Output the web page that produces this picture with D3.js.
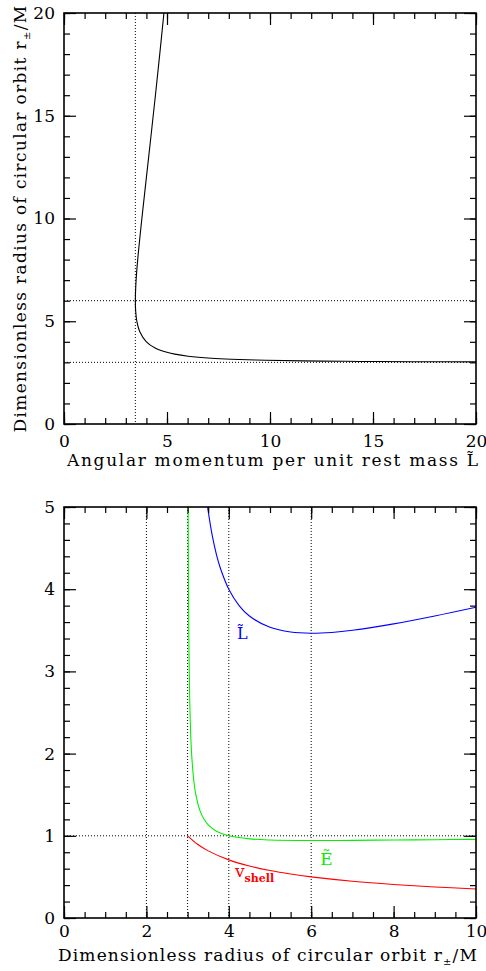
<!DOCTYPE html>
<html>
<head>
<meta charset="utf-8">
<script src="https://cdn.jsdelivr.net/npm/d3@7"></script>
<style>
  body { margin: 0; background: #fff; }
  svg { display: block; }
  text { font-family: "DejaVu Serif", serif; }
</style>
</head>
<body>
<div id="chart"></div>
<script>

// ---- top panel: radius of circular orbit vs angular momentum ----
const orbitL = [20.0, 17.49, 15.2, 13.64, 11.60, 9.80, 8.13, 7.155, 6.025, 5.376, 4.950, 4.422, 4.0,
    3.674, 3.536, 3.479, 3.464, 3.5, 3.578, 3.780, 4.0, 4.221, 4.438, 4.648, 4.851, 4.950];
const orbitR = [3.023, 3.03, 3.04, 3.05, 3.07, 3.1, 3.15, 3.2, 3.3, 3.4, 3.5, 3.7, 4.0,
    4.5, 5, 5.5, 6, 7, 8, 10, 12, 14, 16, 18, 20, 21];
const topGuideX = [3.464];
const topGuideY = [6, 3];
const topTicksX = [0, 5, 10, 15, 20];
const topTicksY = [0, 5, 10, 15, 20];

// ---- bottom panel: L~, E~ and v_shell vs radius ----
const radiusL = [3.486, 3.5, 3.6, 3.7, 3.8, 4, 4.25, 4.5, 5, 5.5, 6, 6.5, 7, 8, 9, 10];
const valuesL = [5.0, 4.950, 4.648, 4.422, 4.249, 4.0, 3.801, 3.674, 3.536, 3.479, 3.464, 3.474, 3.5, 3.578, 3.674, 3.780];
const radiusE = [3.005, 3.01, 3.015, 3.02, 3.03, 3.05, 3.07, 3.1, 3.15, 3.2, 3.3, 3.4, 3.5, 3.7, 4, 4.5, 5, 6, 7, 8, 9, 10];
const valuesE = [8.20, 5.82, 4.773, 4.150, 3.416, 2.689, 2.308, 1.976, 1.673, 1.5, 1.3065, 1.2005, 1.1339, 1.0563,
    1.0, 0.9623, 0.9487, 0.9428, 0.9449, 0.9487, 0.9526, 0.9562];
const radiusV = [3, 3.25, 3.5, 4, 4.5, 5, 5.5, 6, 7, 8, 9, 10];
const valuesV = [1, 0.8944, 0.8165, 0.7071, 0.6325, 0.5774, 0.5345, 0.5, 0.4472, 0.4082, 0.3780, 0.3536];
const botGuideX = [2, 3, 4, 6];
const botGuideY = [1];
const botTicksX = [0, 2, 4, 6, 8, 10];
const botTicksY = [0, 1, 2, 3, 4, 5];

const width = 486, height = 971;
const left = 64, plotW = 412, plotH = 411;

const svg = d3.select("#chart").append("svg")
    .attr("width", width)
    .attr("height", height);

// draws frame, inward ticks on all four sides and labels on bottom/left
function drawAxes(g, x, y, majX, minX, majY, minY, padX) {
    let w = plotW, h = plotH;
    let defs = [
        [d3.axisBottom, x, `translate(0,${h})`, majX, minX, true],
        [d3.axisTop, x, "translate(0,0)", majX, minX, false],
        [d3.axisLeft, y, "translate(0,0)", majY, minY, true],
        [d3.axisRight, y, `translate(${w},0)`, majY, minY, false]
    ];
    defs.forEach(function(d) {
        let minor = g.append("g").attr("transform", d[2])
            .call(d[0](d[1]).tickValues(d[4]).tickSize(-6).tickSizeOuter(0).tickFormat(""));
        let major = g.append("g").attr("transform", d[2])
            .call(d[0](d[1]).tickValues(d[3]).tickSize(-12).tickSizeOuter(0)
                .tickPadding(d[0] === d3.axisLeft ? 9 : padX)
                .tickFormat(d[5] ? d3.format("d") : ""));
        [minor, major].forEach(a => {
            a.select(".domain").remove();
            a.selectAll("line").attr("stroke", "#000").attr("stroke-width", 1.2);
            a.attr("font-family", "DejaVu Serif").attr("font-size", 17);
            a.selectAll("text").attr("fill", "#000");
        });
    });
    g.append("rect")
        .attr("width", w).attr("height", h)
        .attr("fill", "none").attr("stroke", "#000").attr("stroke-width", 1.6);
}

function drawGuides(g, x, y, gx, gy) {
    gx.forEach(v => {
        g.append("line").attr("x1", x(v)).attr("x2", x(v)).attr("y1", 0).attr("y2", plotH)
            .attr("stroke", "#000").attr("stroke-width", 1).attr("stroke-dasharray", "1,2");
    });
    gy.forEach(v => {
        g.append("line").attr("x1", 0).attr("x2", plotW).attr("y1", y(v)).attr("y2", y(v))
            .attr("stroke", "#000").attr("stroke-width", 1).attr("stroke-dasharray", "1,2");
    });
}

// stretch a title (with tspans) to a given length by letter spacing
function fitText(t, target) {
    let n = t.text().length;
    let len = t.node().getComputedTextLength();
    t.attr("letter-spacing", (target - len) / n);
}

// axis title "Dimensionless radius of circular orbit r±/M"
function radiusTitle(t) {
    t.append("tspan").text("Dimensionless radius of circular orbit r");
    t.append("tspan").attr("font-size", 10).attr("dy", 4).text("\u00b1");
    t.append("tspan").attr("dy", -4).text("/M");
}

svg.append("clipPath").attr("id", "clip")
    .append("rect").attr("width", plotW).attr("height", plotH);

// ---------- top panel ----------
let xTop = d3.scaleLinear().domain([0, 20]).range([0, plotW]);
let yTop = d3.scaleLinear().domain([0, 20]).range([plotH, 0]);
let gTop = svg.append("g").attr("transform", `translate(${left},13)`);

drawGuides(gTop, xTop, yTop, topGuideX, topGuideY);

let orbit = orbitL.map((l, i) => [l, orbitR[i]]);
gTop.append("path")
    .datum(orbit)
    .attr("clip-path", "url(#clip)")
    .attr("fill", "none")
    .attr("stroke", "#000")
    .attr("stroke-width", 1.1)
    .attr("d", d3.line().x(d => xTop(d[0])).y(d => yTop(d[1])).curve(d3.curveCatmullRom.alpha(0.5)));

drawAxes(gTop, xTop, yTop, topTicksX, d3.range(0, 21, 1), topTicksY, d3.range(0, 21, 1), 11);

gTop.append("text")
    .attr("x", 3).attr("y", 453)
    .attr("font-size", 17)
    .attr("textLength", 411)
    .attr("lengthAdjust", "spacing")
    .text("Angular momentum per unit rest mass L\u0303");

let yTitle = gTop.append("text")
    .attr("transform", `translate(${26 - left},${plotH / 2 + 214}) rotate(-90)`)
    .attr("font-size", 17);
radiusTitle(yTitle);
fitText(yTitle, 428);

// ---------- bottom panel ----------
let xBot = d3.scaleLinear().domain([0, 10]).range([0, plotW]);
let yBot = d3.scaleLinear().domain([0, 5]).range([plotH, 0]);
let gBot = svg.append("g").attr("transform", `translate(${left},507)`);

drawGuides(gBot, xBot, yBot, botGuideX, botGuideY);

let series = [
    {r: radiusL, v: valuesL, color: "#0000ff"},
    {r: radiusE, v: valuesE, color: "#00f000"},
    {r: radiusV, v: valuesV, color: "#ff0000"}
];
series.forEach(s => {
    gBot.append("path")
        .datum(s.r.map((r, i) => [r, s.v[i]]))
        .attr("clip-path", "url(#clip)")
        .attr("fill", "none")
        .attr("stroke", s.color)
        .attr("stroke-width", 1.1)
        .attr("d", d3.line().x(d => xBot(d[0])).y(d => yBot(d[1])).curve(d3.curveCatmullRom.alpha(0.5)));
});

drawAxes(gBot, xBot, yBot, botTicksX, d3.range(0, 10.01, 0.5), botTicksY, d3.range(0, 5.01, 0.2), 7);

gBot.append("text")
    .attr("x", xBot(4.2)).attr("y", yBot(3.4))
    .attr("font-size", 16).attr("fill", "#0000ff")
    .text("L\u0303");
gBot.append("text")
    .attr("x", xBot(6.22)).attr("y", yBot(0.64))
    .attr("font-size", 17).attr("fill", "#00f000")
    .text("\u1ebc");
let vLab = gBot.append("text")
    .attr("x", xBot(4.15)).attr("y", yBot(0.5))
    .attr("font-size", 17).attr("fill", "#ff0000");
vLab.append("tspan").text("v");
vLab.append("tspan").attr("font-size", 11).attr("font-weight", "bold").attr("dy", 5).text("shell");

let xTitle = gBot.append("text")
    .attr("x", -6).attr("y", 454)
    .attr("font-size", 17);
radiusTitle(xTitle);
fitText(xTitle, 420);
</script>
</body>
</html>
